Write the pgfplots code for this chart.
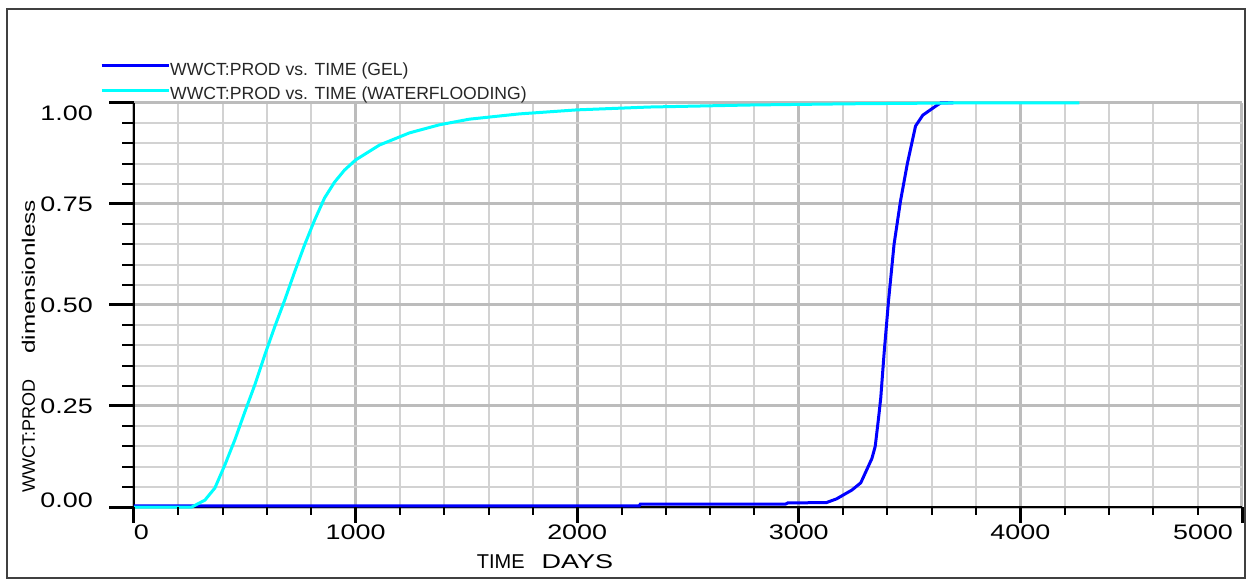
\documentclass[border=0pt]{standalone}
\usepackage{pgfplots}
\pgfplotsset{compat=1.18}
\usepackage{fontspec}
\setmainfont{Liberation Sans}
\newfontfamily\tickfont[FakeStretch=1.28]{Liberation Sans}
\newfontfamily\stretchfont[FakeStretch=1.35]{Liberation Sans}
\definecolor{gridmin}{RGB}{210,210,210}
\definecolor{gridmaj}{RGB}{188,188,188}
\definecolor{gelblue}{RGB}{0,0,255}
\definecolor{wfcyan}{RGB}{0,255,255}
\begin{document}
\begin{tikzpicture}
\useasboundingbox (-134pt,-74pt) rectangle (1119pt,507pt);
\draw[black!75, line width=2pt] (-127pt,-71pt) rectangle (1111pt,498pt);
\begin{axis}[
  at={(0pt,0pt)}, anchor=south west,
  scale only axis, width=1108pt, height=404pt,
  xmin=0, xmax=5000, ymin=0, ymax=1,
  axis x line*=bottom, axis y line*=left,
  axis line style={-, black, line width=2.5pt},
  xtick={0,1000,2000,3000,4000,5000},
  ytick={0,0.25,0.5,0.75,1},
  minor x tick num=4, minor y tick num=4,
  grid=both,
  major grid style={draw=gridmaj, line width=3pt},
  minor grid style={draw=gridmin, line width=2pt},
  tick align=inside,
  tick style={draw=none},
  xticklabels={\makebox[0pt][l]{0},1000,2000,3000,4000,\makebox[0pt][r]{5000\hspace{9pt}}},
  yticklabels={\raisebox{7pt}[\height][\depth]{0.00},0.25,0.50,0.75,\raisebox{-10pt}[\height][\depth]{1.00}},
  xticklabel style={font=\tickfont\fontsize{21pt}{25pt}\selectfont, anchor=north, inner sep=0pt, yshift=-18pt},
  yticklabel style={font=\tickfont\fontsize{21pt}{25pt}\selectfont, anchor=east, inner sep=0pt, xshift=-41pt},
  clip=false,
  legend style={at={(rel axis cs:0,1)}, anchor=south west, xshift=-34pt, yshift=2pt,
    draw=none, fill=none, inner sep=0pt, row sep=10pt,
    font=\fontsize{17.6pt}{21pt}\selectfont, text=black!85,
    nodes={inner sep=0pt},
    /tikz/every even column/.append style={column sep=6pt}},
  legend cell align=left,
  legend image code/.code={\draw[#1, line width=3pt] (0pt,0.35em) -- (67pt,0.35em);},
]
\addplot[gelblue, line width=3pt] coordinates {
(0,0.003) (2280,0.003) (2285,0.007) (2940,0.007) (2950,0.010) (3125,0.011)
(3170,0.02) (3240,0.042) (3280,0.06) (3305,0.09) (3330,0.12) (3345,0.15)
(3360,0.22) (3370,0.27) (3385,0.38) (3405,0.51) (3430,0.65) (3459,0.757)
(3490,0.85) (3527,0.943) (3560,0.97) (3620,0.993) (3640,1.0) (3698,1.0)
};
\addlegendentry{WWCT:PROD vs. TIME (GEL)}
\addplot[wfcyan, line width=3pt] coordinates {
(0,0) (261,0) (320,0.017) (365,0.047) (410,0.104) (455,0.166) (500,0.235)
(545,0.302) (590,0.376) (635,0.446) (680,0.512) (725,0.582) (770,0.649)
(815,0.710) (860,0.765) (905,0.804) (950,0.834) (1000,0.859) (1108,0.896)
(1243,0.926) (1378,0.946) (1514,0.960) (1739,0.973) (2000,0.983) (2324,0.990)
(2775,0.995) (3225,0.998) (3676,1.0) (4266,1.0)
};
\addlegendentry{WWCT:PROD vs. TIME (WATERFLOODING)}
\end{axis}
% axis ticks
\foreach \i in {0,...,25} \draw[black, line width=2pt] (\i*44.32pt,0pt) -- ++(0pt,-8pt);
\foreach \i in {0,...,5} \draw[black, line width=3pt] (\i*221.6pt,0pt) -- ++(0pt,-16pt);
\foreach \i in {0,...,20} \draw[black, line width=2pt] (0pt,\i*20.2pt) -- ++(-12pt,0pt);
\foreach \i in {0,...,4} \draw[black, line width=3pt] (0pt,\i*101pt) -- ++(-25pt,0pt);
% axis titles
\node[rotate=90, anchor=base west, inner sep=0pt, font=\fontsize{18pt}{22pt}\selectfont] at (-99pt,14pt) {WWCT:PROD\hspace{26pt}{\stretchfont dimensionless}};
\node[anchor=base, inner sep=0pt, font=\fontsize{20pt}{24pt}\selectfont] at (411pt,-61pt) {TIME\hspace{17pt}{\stretchfont DAYS}};
\end{tikzpicture}
\end{document}
